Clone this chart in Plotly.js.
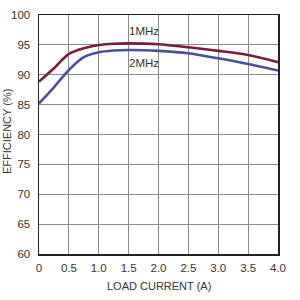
<!DOCTYPE html>
<html><head><meta charset="utf-8">
<script src="https://cdn.plot.ly/plotly-3.0.1.min.js"></script>
<style>html,body{margin:0;padding:0;background:#fff}#c{width:300px;height:300px}</style>
</head><body><div id="c"></div>
<script>
const loadCurrent = [0, 0.25, 0.5, 0.75, 1.0, 1.25, 1.5, 2.0, 2.5, 3.0, 3.5, 4.0];
const eff1MHz = [88.85, 91.1, 93.5, 94.45, 94.98, 95.2, 95.25, 95.1, 94.6, 94.0, 93.3, 92.1];
const eff2MHz = [85.2, 87.9, 90.8, 92.95, 93.75, 94.05, 94.15, 94.0, 93.6, 92.75, 91.8, 90.7];
const xTicks = [0, 0.5, 1.0, 1.5, 2.0, 2.5, 3.0, 3.5, 4.0];
const xTickText = ['0', '0.5', '1.0', '1.5', '2.0', '2.5', '3.0', '3.5', '4.0'];
const yTicks = [60, 65, 70, 75, 80, 85, 90, 95, 100];
const seriesNames = ['1MHz', '2MHz'];

const F = '"Liberation Sans", Arial, sans-serif';
const L = 39, R = 22, T = 15, B = 46, W = 300, H = 300;
const pw = W - L - R, ph = H - T - B;
const px = v => (v - L) / pw;
const py = v => 1 - (v - T) / ph;

const traces = [
  {x: loadCurrent, y: eff1MHz, name: seriesNames[0], mode: 'lines', line: {color: '#7a1c40', width: 2.6, shape: 'spline', smoothing: 0.8}},
  {x: loadCurrent, y: eff2MHz, name: seriesNames[1], mode: 'lines', line: {color: '#4b4f9e', width: 2.6, shape: 'spline', smoothing: 0.8}}
];
const axisCommon = {showline: true, linecolor: '#222', linewidth: 1.5, mirror: true, showgrid: true, gridcolor: '#8a8a8a', gridwidth: 1, zeroline: false, ticks: '', tickfont: {family: F, size: 11.5, color: '#333'}, fixedrange: true};
const layout = {
  width: W, height: H, margin: {l: L, r: R, t: T, b: B}, showlegend: false,
  paper_bgcolor: '#fff', plot_bgcolor: '#fff',
  xaxis: Object.assign({}, axisCommon, {range: [0, 4], tickvals: xTicks, ticktext: xTickText, ticklabelstandoff: 3}),
  yaxis: Object.assign({}, axisCommon, {range: [60, 100], tickvals: yTicks, ticklabelstandoff: 5}),
  annotations: [
    {text: seriesNames[0], xref: 'paper', yref: 'paper', x: px(144), y: py(31), xanchor: 'center', yanchor: 'middle', showarrow: false, font: {family: F, size: 11.5, color: '#333'}},
    {text: seriesNames[1], xref: 'paper', yref: 'paper', x: px(144), y: py(63), xanchor: 'center', yanchor: 'middle', showarrow: false, font: {family: F, size: 11.5, color: '#333'}},
    {text: 'LOAD CURRENT (A)', xref: 'paper', yref: 'paper', x: px(159), y: py(286), xanchor: 'center', yanchor: 'middle', showarrow: false, font: {family: F, size: 11, color: '#333'}},
    {text: 'EFFICIENCY (%)', xref: 'paper', yref: 'paper', x: px(7), y: py(132), xanchor: 'center', yanchor: 'middle', textangle: -90, showarrow: false, font: {family: F, size: 11, color: '#333'}}
  ]
};
Plotly.newPlot('c', traces, layout, {staticPlot: true});
</script></body></html>
